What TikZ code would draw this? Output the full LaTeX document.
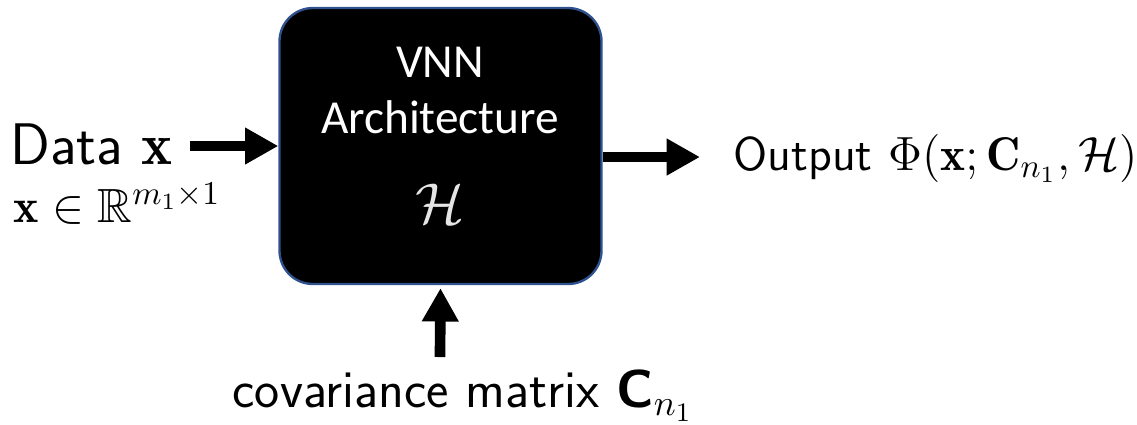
\documentclass[tikz,border=0pt]{standalone}
\usepackage{amsmath,amssymb}
\usepackage{fontspec}
\newfontfamily\calibfont{Carlito}
\usetikzlibrary{arrows.meta,positioning}
\definecolor{boxedge}{RGB}{47,82,143}
\tikzset{
	fat/.style={line width=3.2pt, -{Triangle[length=10pt,width=10.4pt]}},
	lbl/.style={inner sep=0pt, anchor=base west},
}

\begin{document}
\begin{tikzpicture}[x=0.3pt, y=-0.3pt, line join=round]
	\useasboundingbox (0,0) rectangle (1137,424);
	\node[draw=boxedge, line width=0.7pt, fill=black, rounded corners=10pt, minimum width=96.6pt, minimum height=82.8pt] (vnn) at (440.5,146) {};
	\node[text=white, font=\calibfont\fontsize{14.2}{17}\selectfont, anchor=base] (vnnname) at (440,77) {VNN};
	\node[text=white, font=\calibfont\fontsize{14.2}{17}\selectfont, anchor=base] (archname) at (440,133) {Architecture};
	\node[text=white!90!black, font=\fontsize{18}{21}\selectfont, anchor=base] (hset) at (440,223) {$\mathcal{H}$};
	% input side
	\node[lbl, text depth=0pt, font=\sffamily\fontsize{17.6}{21}\selectfont] (data) at (10,164) {Data $\mathbf{x}$};
	\node[lbl, font=\fontsize{14.4}{17}\selectfont] (dim) at (13,222) {$\mathbf{x}\in\mathbb{R}^{m_1\times 1}$};
	\draw[fat] ([xshift=5pt]data.east |- vnn.west) -- (vnn.west);
	% output side
	\coordinate (oin) at (700,157);
	\node[lbl, font=\sffamily\fontsize{14.2}{17}\selectfont] (output) at (733,170) {Output $\Phi(\mathbf{x};\mathbf{C}_{n_1},\mathcal{H})$};
	\draw[fat] (vnn.east |- oin) -- (oin);
	% covariance
	\coordinate (cin) at (440,357);
	\node[lbl, font=\sffamily\fontsize{16}{19}\selectfont] (cov) at (232,407) {covariance matrix \textbf{C}$_{n_1}$};
	\draw[fat] (cin) -- ([yshift=-0.9pt]vnn.south);
\end{tikzpicture}
\end{document}
